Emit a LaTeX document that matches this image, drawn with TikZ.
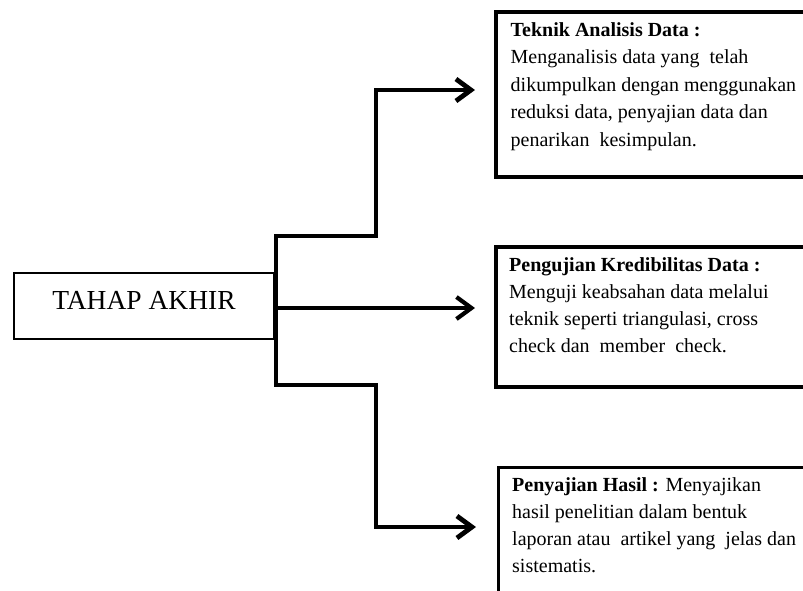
\documentclass[tikz,border=0pt]{standalone}
\usepackage{fontspec}
\setmainfont{Liberation Serif}
\usetikzlibrary{arrows.meta}
\begin{document}
\begin{tikzpicture}[x=1pt,y=-1pt,
  conn/.style={line width=4.8pt, line join=miter},
  tipped/.style={-{Straight Barb[length=15pt,width=22pt]}},
  rbox/.style={draw, line width=3.8pt, inner sep=0pt, anchor=north west},
  mainbox/.style={draw, line width=2.8pt, inner sep=0pt},
  body/.style={anchor=base west, align=left, inner sep=0pt, font=\rmfamily\fontsize{20}{27}\selectfont},
]
\useasboundingbox (0,0) rectangle (803,590);
% main box
\node[mainbox, minimum width=260pt, minimum height=66pt] (A) at (144,306) {};
\node[anchor=base, inner sep=0pt, font=\rmfamily\fontsize{27.5}{30}\selectfont] (Atext) at (144,309) {TAHAP AKHIR};
% right boxes
\node[rbox, minimum width=356pt, minimum height=165pt] (B1) at (494,10) {};
\node[rbox, minimum width=356pt, minimum height=140pt] (B2) at (494,245) {};
\node[rbox, line width=3.4pt, minimum width=356pt, minimum height=200pt] (B3) at (497,466) {};
% texts (anchor = baseline of last line)
\node[body, font=\rmfamily\fontsize{20}{27.5}\selectfont] (T1) at (510.5,146) {\textbf{Teknik Analisis Data :}\\
Menganalisis data yang\ \ telah\\
dikumpulkan dengan menggunakan\\
reduksi data, penyajian data dan\\
penarikan\ \ kesimpulan.};
\node[body] (T2) at (509,352) {\textbf{Pengujian Kredibilitas Data :}\\
Menguji keabsahan data melalui\\
teknik seperti triangulasi, cross\\
check dan\ \ member\ \ check.};
\node[body] (T3) at (512,572) {\textbf{Penyajian Hasil :} Menyajikan\\
hasil penelitian dalam bentuk\\
laporan atau\ \ artikel yang\ \ jelas dan\\
sistematis.};
% connector points
\coordinate (tt) at (276,236);
\coordinate (tb) at (276,385);
\coordinate (u1) at (376,236);
\coordinate (u2) at (376,90);
\coordinate (t1) at (475,90);
\coordinate (m0) at (276,308);
\coordinate (t2) at (475,308);
\coordinate (d1) at (376,385);
\coordinate (d2) at (376,527);
\coordinate (t3) at (476,527);
% connectors
\draw[conn, tipped] (tb) -- (tt) -- (u1) -- (u2) -- (t1);
\draw[conn, tipped] (tt) -- (tb) -- (d1) -- (d2) -- (t3);
\draw[conn, line width=4.2pt, tipped] (m0) -- (t2);
\end{tikzpicture}
\end{document}
